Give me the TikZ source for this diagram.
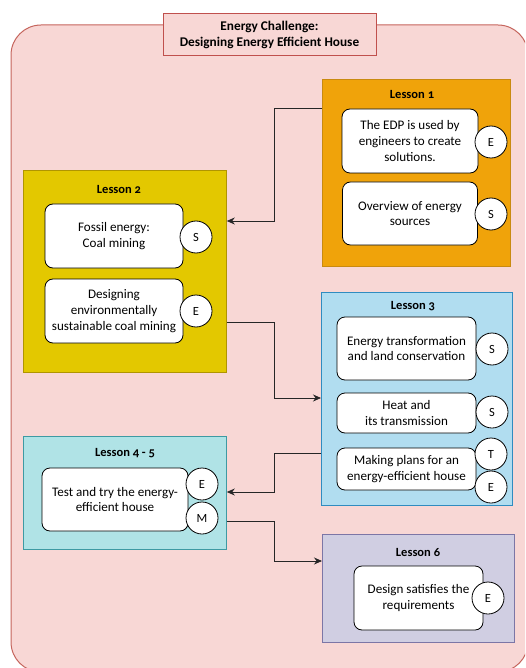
\documentclass[tikz,border=0pt]{standalone}
\usepackage{fontspec}
\setmainfont{Carlito}[Numbers=OldStyle]
\usetikzlibrary{arrows.meta}
\definecolor{outerfill}{HTML}{F8D7D5}
\definecolor{outerdraw}{HTML}{C5645C}
\definecolor{titledraw}{HTML}{C0504D}
\definecolor{lonefill}{HTML}{F0A30A}
\definecolor{lonedraw}{HTML}{C98A10}
\definecolor{ltwofill}{HTML}{E3C800}
\definecolor{ltwodraw}{HTML}{B09500}
\definecolor{lthreefill}{HTML}{B1DDF0}
\definecolor{lthreedraw}{HTML}{2F8CC0}
\definecolor{lfourfill}{HTML}{B0E3E6}
\definecolor{lfourdraw}{HTML}{3E9AA3}
\definecolor{lsixfill}{HTML}{D0CEE2}
\definecolor{lsixdraw}{HTML}{7C76A6}
\begin{document}
\begin{tikzpicture}[x=1pt,y=-1pt,
  lessonbox/.style={draw, line width=0.8pt, anchor=north west, inner sep=0pt},
  lessontitle/.style={font=\fontsize{12.5}{14}\selectfont\bfseries, inner sep=0pt},
  topicbox/.style={draw=black, fill=white, rounded corners=8pt, line width=0.8pt,
    align=center, inner sep=1pt, font=\fontsize{13.1}{15.8}\selectfont},
  letter/.style={draw=black, fill=white, circle, minimum size=32pt, inner sep=0pt,
    line width=0.8pt, font=\fontsize{12.5}{14}\selectfont},
  conn/.style={draw=black!85, line width=0.8pt},
  arr/.style={conn, -{Stealth[length=8pt,width=7pt]}}]
\useasboundingbox (0,0) rectangle (525,668);
\begin{scope}
\clip (0,0) rectangle (525,668);
\draw[fill=outerfill, draw=outerdraw, line width=1pt, rounded corners=30pt] (11,25) rectangle (528,672);
\end{scope}
\node[draw=titledraw, fill=outerfill, line width=1pt, minimum width=213pt, minimum height=42pt,
  align=center, font=\fontsize{13.3}{16}\selectfont\bfseries] (title) at (269.5,35)
  {Energy Challenge:\\Designing Energy Efficient House};

% Lesson 1
\node[lessonbox, fill=lonefill, draw=lonedraw, minimum width=188pt, minimum height=187pt] (L1) at (322,79) {};
\node[lessontitle] (L1t) at (412,94) {Lesson 1};
\node[topicbox, minimum width=136pt, minimum height=64pt] (L1a) at (410,141) {The EDP is used by\\engineers to create\\solutions.};
\node[letter] (L1aE) at (491,142) {E};
\node[topicbox, minimum width=135pt, minimum height=63pt] (L1b) at (410,213.5) {Overview of energy\\sources};
\node[letter] (L1bS) at (491,214) {S};

% Lesson 2
\node[lessonbox, fill=ltwofill, draw=ltwodraw, minimum width=203pt, minimum height=202pt] (L2) at (23,170) {};
\node[lessontitle] (L2t) at (119,189) {Lesson 2};
\node[topicbox, minimum width=138pt, minimum height=64pt] (L2a) at (114,236) {Fossil energy:\\Coal mining};
\node[letter] (L2aS) at (196,237) {S};
\node[topicbox, minimum width=138pt, minimum height=64pt] (L2b) at (114,311) {Designing\\environmentally\\sustainable coal mining};
\node[letter] (L2bE) at (196,311) {E};

% Lesson 3
\node[lessonbox, fill=lthreefill, draw=lthreedraw, minimum width=191pt, minimum height=213pt] (L3) at (321,292) {};
\node[lessontitle] (L3t) at (413,306) {Lesson 3};
\node[topicbox, minimum width=139pt, minimum height=63pt] (L3a) at (406.5,348.5) {Energy transformation\\and land conservation};
\node[letter] (L3aS) at (492,349) {S};
\node[topicbox, minimum width=139pt, minimum height=40pt] (L3b) at (406.5,413) {Heat and\\its transmission};
\node[letter] (L3bS) at (492,412) {S};
\node[topicbox, minimum width=139pt, minimum height=42pt] (L3c) at (406.5,469) {Making plans for an\\energy-efficient house};
\node[letter] (L3cT) at (491,454) {T};
\node[letter] (L3cE) at (491,487) {E};

% Lesson 4-5
\node[lessonbox, fill=lfourfill, draw=lfourdraw, minimum width=203pt, minimum height=113pt] (L45) at (23,436) {};
\node[lessontitle] (L45t) at (125,453) {Lesson 4 - 5};
\node[topicbox, minimum width=146pt, minimum height=63pt] (L45a) at (115,499.5) {Test and try the energy-\\efficient house};
\node[letter] (L45aE) at (202,484) {E};
\node[letter] (L45aM) at (202,518) {M};

% Lesson 6
\node[lessonbox, fill=lsixfill, draw=lsixdraw, minimum width=192pt, minimum height=108pt] (L6) at (322,534) {};
\node[lessontitle] (L6t) at (418,552) {Lesson 6};
\node[topicbox, minimum width=129pt, minimum height=64pt] (L6a) at (418.5,598) {Design satisfies the\\requirements};
\node[letter] (L6aE) at (488,598) {E};

% connectors
\draw[arr] ([yshift=-29pt]L1.north west) -| (274,221) -- ([yshift=-51pt]L2.north east);
\draw[arr] ([yshift=-152pt]L2.north east) -| (274,398) -- ([yshift=-106pt]L3.north west);
\draw[arr] ([yshift=-161pt]L3.north west) -| (274,492) -- ([yshift=-56pt]L45.north east);
\draw[arr] ([yshift=-85pt]L45.north east) -| (274,561) -- ([yshift=-27pt]L6.north west);
\end{tikzpicture}
\end{document}
